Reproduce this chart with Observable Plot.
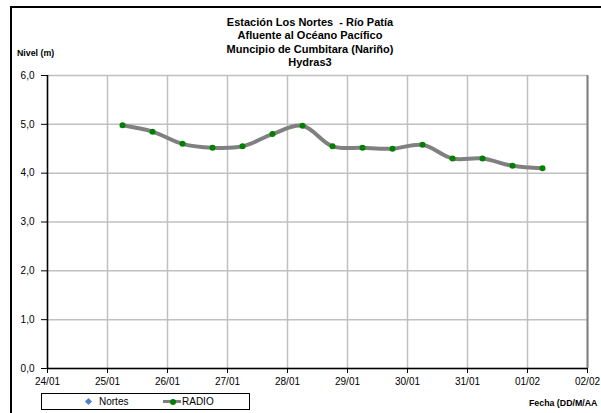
<!DOCTYPE html>
<html><head><meta charset="utf-8">
<script src="https://cdn.jsdelivr.net/npm/d3@7"></script>
<script src="https://cdn.jsdelivr.net/npm/@observablehq/plot@0.6"></script>
<style>
body{margin:0;background:#fff;font-family:"Liberation Sans",Arial,sans-serif;}
#wrap{position:relative;width:601px;height:413px;overflow:hidden;background:#fff;}
#frame{position:absolute;left:10px;top:6px;width:700px;height:500px;border:2px solid #000;box-sizing:border-box;}
#chart{position:absolute;left:0;top:0;}
#title{position:absolute;left:160px;top:16px;width:300px;text-align:center;font-weight:bold;font-size:11px;line-height:13.3px;color:#000;}
#ylab{position:absolute;left:17px;top:48px;font-weight:bold;font-size:8.8px;white-space:nowrap;}
#xlab{position:absolute;left:529px;top:398px;font-weight:bold;font-size:8.8px;white-space:nowrap;}
#legend{position:absolute;left:41px;top:393px;width:209px;height:17px;border:1.5px solid #000;box-sizing:border-box;font-size:10px;}
.lt{position:absolute;top:1.5px;line-height:12px;white-space:nowrap;}
#dia{position:absolute;left:44px;top:4.5px;width:5px;height:5px;background:#4f81bd;transform:rotate(45deg);}
#lline{position:absolute;left:121px;top:6px;width:18px;height:3px;background:#808080;}
#ldot{position:absolute;left:128px;top:4.5px;width:6px;height:6px;border-radius:50%;background:#008000;}
</style></head>
<body>
<div id="wrap">
  <div id="chart"></div>
  <div id="frame"></div>
  <div id="title">Estación Los Nortes&nbsp; - Río Patía<br>Afluente al Océano Pacífico<br>Muncipio de Cumbitara (Nariño)<br>Hydras3</div>
  <div id="ylab">Nivel (m)</div>
  <div id="xlab">Fecha (DD/M/AA</div>
  <div id="legend">
    <div id="dia"></div><div class="lt" style="left:57px">Nortes</div>
    <div id="lline"></div><div id="ldot"></div><div class="lt" style="left:140px">RADIO</div>
  </div>
</div>
<script>
// Data
const times = [
  "2011-01-25T06:00Z","2011-01-25T18:00Z","2011-01-26T06:00Z","2011-01-26T18:00Z",
  "2011-01-27T06:00Z","2011-01-27T18:00Z","2011-01-28T06:00Z","2011-01-28T18:00Z",
  "2011-01-29T06:00Z","2011-01-29T18:00Z","2011-01-30T06:00Z","2011-01-30T18:00Z",
  "2011-01-31T06:00Z","2011-01-31T18:00Z","2011-02-01T06:00Z"
];
const radio = [4.98, 4.85, 4.60, 4.52, 4.55, 4.80, 4.97, 4.55, 4.52, 4.50, 4.58, 4.30, 4.30, 4.15, 4.10];
const xDomain = ["2011-01-24T00:00Z", "2011-02-02T00:00Z"];
const yTicks = [0, 1, 2, 3, 4, 5, 6];

const data = times.map((t, i) => ({t: new Date(t), v: radio[i]}));
const x0 = new Date(xDomain[0]), x1 = new Date(xDomain[1]);
const dayTicks = d3.utcDay.range(x0, d3.utcDay.offset(x1, 1));

const chart = Plot.plot({
  width: 601, height: 413,
  marginLeft: 47, marginRight: 14, marginTop: 75, marginBottom: 45,
  style: {fontFamily: "'Liberation Sans', Arial, sans-serif", fontSize: "10px", background: "transparent", overflow: "visible", color: "#000"},
  x: {type: "utc", domain: [x0, x1]},
  y: {domain: [0, 6]},
  marks: [
    Plot.ruleX(dayTicks, {stroke: "#c0c0c0", strokeWidth: 1.5}),
    Plot.ruleY(yTicks, {stroke: "#c0c0c0", strokeWidth: 1.5}),
    Plot.ruleX([x1], {stroke: "#808080", strokeWidth: 2}),
    Plot.axisX({ticks: dayTicks, tickFormat: d3.utcFormat("%d/%m"), tickSize: 5, tickPadding: 4, label: null, fontSize: 10}),
    Plot.axisY({ticks: yTicks, tickFormat: d => d.toFixed(1).replace(".", ","), tickSize: 6, tickPadding: 7, label: null, fontSize: 10}),
    Plot.ruleY([0], {stroke: "#000", strokeWidth: 1.5}),
    Plot.ruleX([x0], {stroke: "#000", strokeWidth: 1.5}),
    Plot.line(data, {x: "t", y: "v", curve: "catmull-rom", stroke: "#808080", strokeWidth: 4}),
    Plot.dot(data, {x: "t", y: "v", fill: "#008000", r: 3})
  ]
});
document.getElementById("chart").appendChild(chart);
</script>
</body></html>
